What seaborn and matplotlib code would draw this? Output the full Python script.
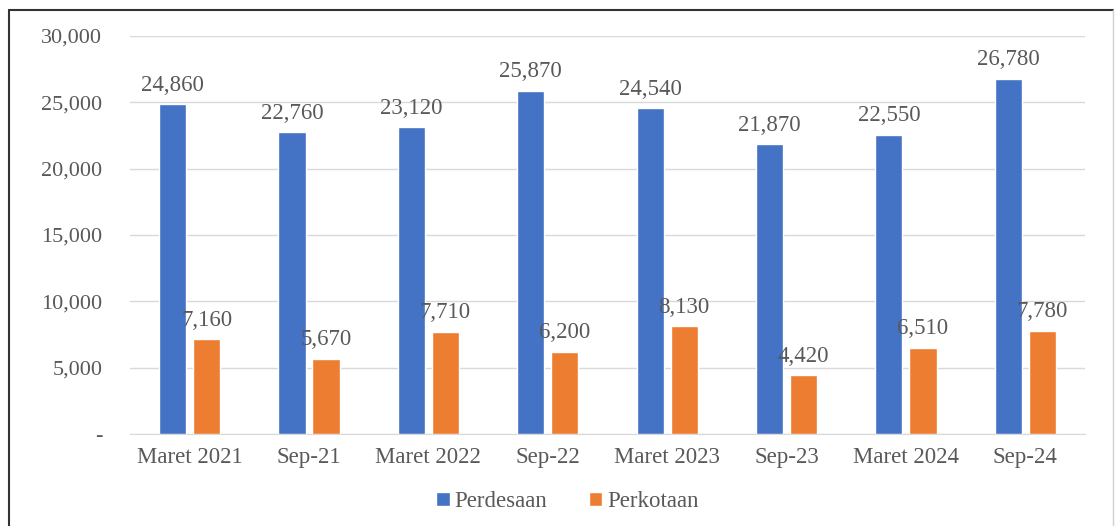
import pandas as pd
import seaborn as sns
import matplotlib.pyplot as plt
from matplotlib.lines import Line2D

# Data
periode = ['Maret 2021', 'Sep-21', 'Maret 2022', 'Sep-22',
           'Maret 2023', 'Sep-23', 'Maret 2024', 'Sep-24']
perdesaan = [24860, 22760, 23120, 25870, 24540, 21870, 22550, 26780]
perkotaan = [7160, 5670, 7710, 6200, 8130, 4420, 6510, 7780]
y_ticks = [0, 5000, 10000, 15000, 20000, 25000, 30000]

df = pd.DataFrame({
    'Periode': periode * 2,
    'Nilai': perdesaan + perkotaan,
    'Wilayah': ['Perdesaan'] * len(periode) + ['Perkotaan'] * len(periode),
})

sns.set_style('white')
plt.rcParams['font.family'] = ['Liberation Serif', 'DejaVu Serif']
teks = '#595959'

fig = plt.figure(figsize=(11.17, 5.26), dpi=100)
ax = fig.add_axes([0.1164, 0.1749, 0.8549, 0.7567])

sns.barplot(data=df, x='Periode', y='Nilai', hue='Wilayah',
            palette=['#4472C4', '#ED7D31'], saturation=1,
            width=0.57, gap=0.2, errorbar=None, ax=ax, zorder=3)

# label nilai di atas batang
for cont in ax.containers:
    ax.bar_label(cont, labels=[f'{v:,.0f}' for v in cont.datavalues],
                 padding=6, fontsize=16.5, color=teks)

ax.set_ylim(0, 30000)
ax.set_yticks(y_ticks)
ax.set_yticklabels(['-' if t == 0 else f'{t:,}' for t in y_ticks])
ax.yaxis.grid(True, color='#D9D9D9', linewidth=1, zorder=0)
ax.set_xlabel('')
ax.set_ylabel('')
ax.tick_params(axis='y', length=0, pad=20, labelsize=16, labelcolor=teks)
ax.tick_params(axis='x', length=0, pad=9, labelsize=16.5, labelcolor=teks)
for s in ['top', 'right', 'left']:
    ax.spines[s].set_visible(False)
ax.spines['bottom'].set_color('#D9D9D9')

ax.legend(loc='center', bbox_to_anchor=(0.458, -0.17), ncol=2, frameon=False,
          fontsize=16.5, handlelength=0.6, handleheight=0.6, handletextpad=0.2,
          columnspacing=1.8, labelcolor=teks)

# bingkai grafik
fig.add_artist(Line2D([0.0085, 0.0085], [0, 0.981], color='#333333', lw=1.5))
fig.add_artist(Line2D([0.0085, 0.996], [0.981, 0.981], color='#333333', lw=1.5))
fig.add_artist(Line2D([0.996, 0.996], [0, 0.981], color='#D0D0D0', lw=1))

fig.savefig('out.png', dpi=100)
